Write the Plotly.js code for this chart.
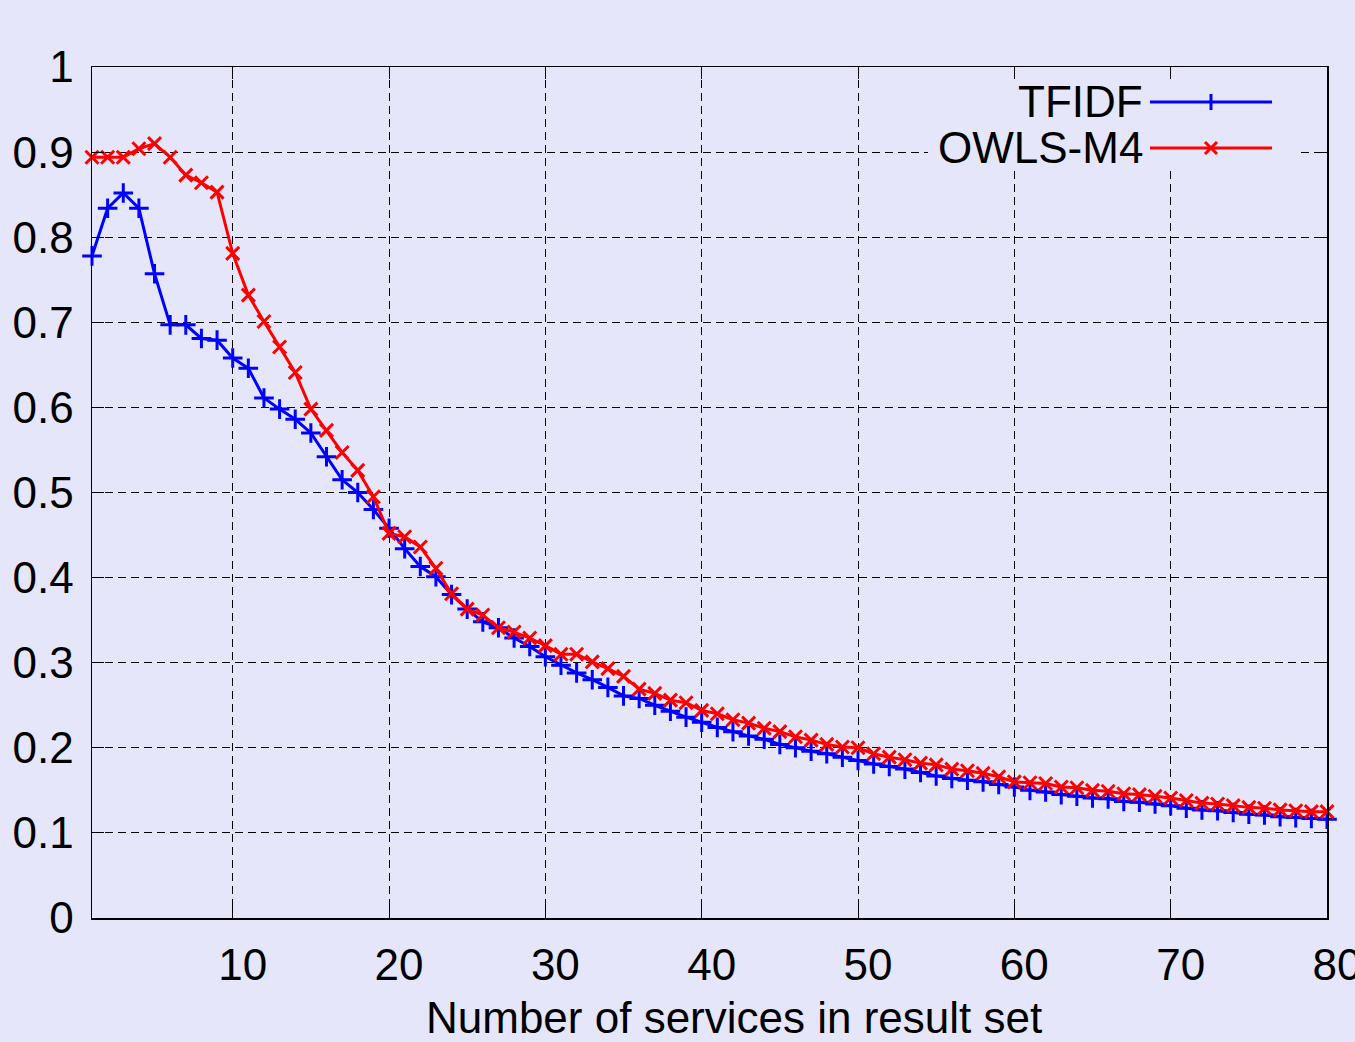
<!DOCTYPE html>
<html>
<head>
<meta charset="utf-8">
<script src="https://cdn.plot.ly/plotly-3.0.1.min.js"></script>
<style>
html,body{margin:0;padding:0;background:#E6E6FA;}
#chart{width:1355px;height:1042px;}
</style>
</head>
<body>
<div id="chart"></div>
<script>
// Data
const resultSetSize = Array.from({length: 80}, (_, i) => i + 1);
const tfidf = [
  0.778,0.834,0.852,0.834,0.757,0.697,0.697,0.681,0.679,0.658,
  0.646,0.611,0.598,0.586,0.570,0.542,0.515,0.500,0.480,0.458,
  0.434,0.413,0.401,0.380,0.363,0.348,0.341,0.329,0.319,0.307,
  0.297,0.288,0.280,0.271,0.261,0.258,0.250,0.243,0.236,0.230,
  0.224,0.219,0.214,0.210,0.204,0.200,0.196,0.193,0.189,0.185,
  0.181,0.178,0.175,0.171,0.167,0.164,0.162,0.160,0.157,0.154,
  0.150,0.148,0.145,0.143,0.141,0.140,0.137,0.136,0.134,0.132,
  0.129,0.127,0.126,0.124,0.122,0.121,0.119,0.118,0.117,0.116
];
const owlsM4 = [
  0.894,0.894,0.894,0.904,0.910,0.894,0.873,0.864,0.853,0.781,
  0.732,0.701,0.671,0.641,0.598,0.573,0.547,0.526,0.495,0.452,
  0.448,0.436,0.411,0.381,0.363,0.356,0.341,0.336,0.329,0.320,
  0.310,0.310,0.301,0.293,0.284,0.269,0.264,0.256,0.253,0.244,
  0.240,0.233,0.229,0.223,0.219,0.213,0.209,0.204,0.201,0.200,
  0.193,0.189,0.186,0.182,0.180,0.175,0.173,0.170,0.166,0.160,
  0.159,0.158,0.154,0.153,0.150,0.149,0.146,0.145,0.143,0.141,
  0.138,0.135,0.134,0.132,0.130,0.129,0.127,0.126,0.125,0.125
];
const seriesNames = ["TFIDF", "OWLS-M4"];
const xTicks = [10,20,30,40,50,60,70,80];
const yTicks = [0,0.1,0.2,0.3,0.4,0.5,0.6,0.7,0.8,0.9,1];
const yTickText = ["0","0.1","0.2","0.3","0.4","0.5","0.6","0.7","0.8","0.9","1"];
const xTitle = "Number of services in result set";

const BLUE = "#0000FF", RED = "#FF0000", BG = "#E6E6FA";
const FONT = "Liberation Sans, Arial, sans-serif";

// plot geometry (px) used for the hand-drawn gnuplot-style key
const L = 92, R = 1327, T = 67, B = 918;
const px = x => (x - L) / (R - L);
const py = y => (B - y) / (B - T);

const traces = [
  {x: resultSetSize, y: tfidf, name: seriesNames[0], mode: "lines+markers",
   line: {color: BLUE, width: 3},
   marker: {symbol: "cross-thin", size: 14, line: {color: BLUE, width: 3}},
   cliponaxis: false, showlegend: false},
  {x: resultSetSize, y: owlsM4, name: seriesNames[1], mode: "lines+markers",
   line: {color: RED, width: 3},
   marker: {symbol: "x-thin", size: 13, line: {color: RED, width: 3}},
   cliponaxis: false, showlegend: false}
];

const axisCommon = {
  showline: true, linecolor: "#000", linewidth: 1.5, mirror: "ticks",
  ticks: "inside", ticklen: 12, tickwidth: 1, tickcolor: "#000",
  showgrid: true, gridcolor: "#000", gridwidth: 1, griddash: "8px,5px",
  zeroline: false, tickfont: {family: FONT, size: 44, color: "#000"},
  ticklabeloverflow: "allow"
};

const keyRowY = [102, 148];
const keyLineX0 = 1150, keyLineX1 = 1272, keyMarkX = 1211;

const shapes = [
  // key background box (hides grid as gnuplot does)
  {type: "rect", xref: "paper", yref: "paper", x0: px(928), x1: px(1298), y0: py(170), y1: py(80),
   fillcolor: BG, line: {width: 0}, layer: "above"},
  {type: "line", xref: "paper", yref: "paper", x0: px(keyLineX0), x1: px(keyLineX1), y0: py(keyRowY[0]), y1: py(keyRowY[0]),
   line: {color: BLUE, width: 3}, layer: "above"},
  {type: "line", xref: "paper", yref: "paper", x0: px(keyMarkX), x1: px(keyMarkX), y0: py(keyRowY[0]-8), y1: py(keyRowY[0]+8),
   line: {color: BLUE, width: 3}, layer: "above"},
  {type: "line", xref: "paper", yref: "paper", x0: px(keyLineX0), x1: px(keyLineX1), y0: py(keyRowY[1]), y1: py(keyRowY[1]),
   line: {color: RED, width: 3}, layer: "above"},
  {type: "line", xref: "paper", yref: "paper", x0: px(keyMarkX-6), x1: px(keyMarkX+6), y0: py(keyRowY[1]-6), y1: py(keyRowY[1]+6),
   line: {color: RED, width: 3}, layer: "above"},
  {type: "line", xref: "paper", yref: "paper", x0: px(keyMarkX-6), x1: px(keyMarkX+6), y0: py(keyRowY[1]+6), y1: py(keyRowY[1]-6),
   line: {color: RED, width: 3}, layer: "above"}
];

const annotations = [
  {xref: "paper", yref: "paper", x: px(1145), y: py(keyRowY[0]), xanchor: "right", yanchor: "middle",
   text: seriesNames[0], showarrow: false, font: {family: FONT, size: 44, color: "#000"}},
  {xref: "paper", yref: "paper", x: px(1145), y: py(keyRowY[1]), xanchor: "right", yanchor: "middle",
   text: seriesNames[1], showarrow: false, font: {family: FONT, size: 44, color: "#000"}},
  {xref: "paper", yref: "paper", x: px(734), y: py(1017), xanchor: "center", yanchor: "middle",
   text: xTitle, showarrow: false, font: {family: FONT, size: 44, color: "#000"}}
];

const layout = {
  width: 1355, height: 1042,
  paper_bgcolor: BG, plot_bgcolor: BG,
  margin: {l: L, r: 1355 - R, t: T, b: 1042 - B, pad: 0},
  showlegend: false,
  font: {family: FONT, size: 44, color: "#000"},
  xaxis: Object.assign({}, axisCommon, {
    range: [1, 80], tickmode: "array", tickvals: xTicks,
    ticklabelstandoff: 8, ticklabelshift: 10
  }),
  yaxis: Object.assign({}, axisCommon, {
    range: [0, 1], tickmode: "array", tickvals: yTicks, ticktext: yTickText,
    ticklabelstandoff: 8
  }),
  shapes: shapes,
  annotations: annotations
};

Plotly.newPlot("chart", traces, layout, {staticPlot: true, displayModeBar: false});
</script>
</body>
</html>
